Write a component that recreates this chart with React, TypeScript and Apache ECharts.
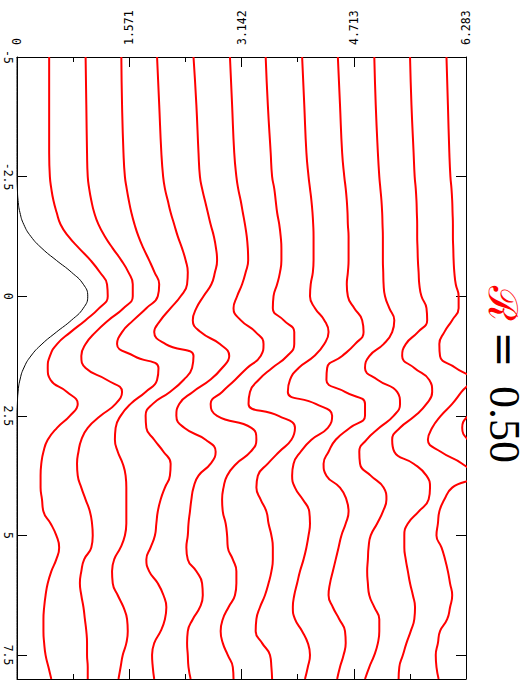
import React, { useEffect, useRef } from 'react';
import * as echarts from 'echarts';

// Position along the line (vertical axis, shared by every profile)
const POS = [-5, -4, -3, -2.5, -2.25, -2, -1.75, -1.5, -1.25, -1, -0.75, -0.5, -0.25, 0, 0.25, 0.5, 0.75, 1, 1.25, 1.5, 1.75, 2, 2.25, 2.5, 2.75, 3, 3.25, 3.5, 3.75, 4, 4.25, 4.5, 4.75, 5, 5.25, 5.5, 5.75, 6, 6.25, 6.5, 6.75, 7, 7.25, 7.5, 7.75, 8];

// Initial pulse (black)
const INITIAL = [0, 0, 0, 0, 0.005, 0.015, 0.041, 0.095, 0.194, 0.349, 0.551, 0.763, 0.928, 0.99, 0.928, 0.763, 0.551, 0.349, 0.194, 0.095, 0.041, 0.015, 0.005, 0, 0, 0, 0, 0, 0, 0, 0, 0, 0, 0, 0, 0, 0, 0, 0, 0, 0, 0, 0, 0, 0, 0];

// Evolved profiles (red), horizontal value incl. offset
const P1 = [0.45, 0.45, 0.45, 0.46, 0.48, 0.51, 0.555, 0.61, 0.72, 0.87, 1.03, 1.16, 1.26, 1.27, 1.15, 0.96, 0.75, 0.56, 0.46, 0.43, 0.47, 0.70, 0.85, 0.74, 0.56, 0.43, 0.37, 0.34, 0.33, 0.33, 0.35, 0.37, 0.47, 0.55, 0.59, 0.55, 0.48, 0.43, 0.40, 0.38, 0.37, 0.37, 0.38, 0.40, 0.44, 0.48];
const P2 = [0.96, 0.97, 0.98, 0.99, 1.01, 1.04, 1.08, 1.14, 1.23, 1.34, 1.46, 1.56, 1.62, 1.62, 1.49, 1.28, 1.10, 0.96, 0.90, 0.96, 1.26, 1.47, 1.38, 1.17, 0.99, 0.90, 0.86, 0.84, 0.85, 0.90, 0.96, 1.02, 1.05, 1.06, 1.04, 0.94, 0.90, 0.88, 0.90, 0.93, 0.95, 0.97, 0.98, 0.98, 0.99, 0.99];
const P3 = [1.46, 1.47, 1.49, 1.51, 1.535, 1.565, 1.60, 1.645, 1.70, 1.77, 1.85, 1.925, 1.99, 1.97, 1.81, 1.63, 1.47, 1.40, 1.64, 1.98, 1.96, 1.80, 1.59, 1.45, 1.38, 1.37, 1.41, 1.48, 1.52, 1.53, 1.53, 1.53, 1.53, 1.51, 1.45, 1.36, 1.33, 1.34, 1.41, 1.49, 1.54, 1.55, 1.53, 1.48, 1.45, 1.42];
const P4 = [1.96, 1.99, 2.02, 2.045, 2.07, 2.11, 2.15, 2.20, 2.25, 2.31, 2.36, 2.39, 2.38, 2.29, 2.15, 2.01, 1.92, 2.08, 2.47, 2.45, 2.33, 2.14, 1.90, 1.80, 1.81, 1.92, 2.05, 2.15, 2.14, 2.07, 2.01, 1.97, 1.95, 1.93, 1.87, 1.81, 1.85, 1.97, 2.05, 2.09, 2.07, 2.01, 1.92, 1.89, 1.90, 1.92];
const P5 = [2.47, 2.51, 2.54, 2.56, 2.59, 2.63, 2.67, 2.71, 2.755, 2.785, 2.80, 2.77, 2.72, 2.61, 2.51, 2.46, 2.57, 2.84, 2.97, 2.87, 2.70, 2.46, 2.27, 2.23, 2.34, 2.64, 2.78, 2.71, 2.54, 2.47, 2.44, 2.42, 2.40, 2.39, 2.37, 2.39, 2.51, 2.59, 2.60, 2.56, 2.46, 2.39, 2.38, 2.39, 2.40, 2.43];
const P6 = [2.98, 3.01, 3.04, 3.07, 3.095, 3.13, 3.16, 3.19, 3.215, 3.23, 3.235, 3.20, 3.15, 3.08, 3.03, 3.13, 3.34, 3.45, 3.41, 3.22, 3.05, 2.87, 2.71, 2.80, 3.28, 3.35, 3.27, 3.07, 2.94, 2.89, 2.87, 2.88, 2.92, 2.94, 2.95, 3.02, 3.07, 3.07, 3.05, 2.96, 2.88, 2.85, 2.88, 2.95, 3.02, 3.03];
const P7 = [3.48, 3.51, 3.55, 3.57, 3.60, 3.62, 3.64, 3.67, 3.69, 3.70, 3.70, 3.68, 3.64, 3.59, 3.58, 3.73, 3.88, 3.88, 3.78, 3.57, 3.38, 3.26, 3.24, 3.66, 3.89, 3.84, 3.67, 3.51, 3.37, 3.35, 3.41, 3.49, 3.52, 3.56, 3.58, 3.58, 3.56, 3.52, 3.47, 3.40, 3.35, 3.34, 3.43, 3.54, 3.56, 3.57];
const P8 = [3.99, 4.02, 4.05, 4.08, 4.10, 4.12, 4.135, 4.145, 4.15, 4.15, 4.15, 4.14, 4.11, 4.10, 4.17, 4.30, 4.36, 4.30, 4.16, 3.94, 3.82, 3.79, 4.18, 4.41, 4.35, 4.12, 3.97, 3.87, 3.85, 3.89, 4.00, 4.09, 4.10, 4.08, 4.05, 4.01, 3.96, 3.92, 3.88, 3.86, 3.89, 3.99, 4.07, 4.10, 4.07, 4.03];
const P9 = [4.49, 4.52, 4.55, 4.58, 4.60, 4.615, 4.625, 4.63, 4.64, 4.64, 4.64, 4.63, 4.615, 4.63, 4.72, 4.83, 4.85, 4.73, 4.55, 4.34, 4.33, 4.59, 4.87, 4.87, 4.66, 4.46, 4.36, 4.29, 4.33, 4.52, 4.61, 4.64, 4.60, 4.54, 4.50, 4.46, 4.42, 4.38, 4.36, 4.42, 4.51, 4.59, 4.60, 4.57, 4.52, 4.48];
const P10 = [5.00, 5.02, 5.05, 5.07, 5.085, 5.10, 5.11, 5.115, 5.12, 5.12, 5.12, 5.125, 5.13, 5.15, 5.21, 5.28, 5.25, 5.13, 4.93, 4.87, 5.05, 5.32, 5.36, 5.27, 5.07, 4.89, 4.79, 4.80, 4.95, 5.13, 5.17, 5.12, 5.04, 4.95, 4.92, 4.91, 4.90, 4.91, 4.93, 5.00, 5.07, 5.07, 5.05, 5.00, 4.93, 4.87];
const P11 = [5.50, 5.52, 5.55, 5.565, 5.58, 5.59, 5.595, 5.60, 5.60, 5.605, 5.61, 5.62, 5.63, 5.66, 5.73, 5.74, 5.61, 5.44, 5.39, 5.56, 5.77, 5.81, 5.73, 5.57, 5.36, 5.25, 5.28, 5.55, 5.73, 5.78, 5.76, 5.62, 5.47, 5.42, 5.42, 5.44, 5.47, 5.50, 5.54, 5.57, 5.56, 5.51, 5.45, 5.40, 5.35, 5.34];
const P12 = [6.01, 6.03, 6.05, 6.065, 6.08, 6.09, 6.095, 6.10, 6.10, 6.105, 6.11, 6.12, 6.14, 6.18, 6.18, 6.09, 5.98, 5.91, 5.92, 6.14, 6.35, 6.22, 6.09, 5.93, 5.81, 5.75, 5.93, 6.23, 6.39, 6.09, 5.98, 5.91, 5.89, 5.87, 5.94, 5.99, 6.03, 6.06, 6.09, 6.06, 6.02, 5.92, 5.89, 5.86, 5.87, 5.90];

// Next profile, only its dip into the window is visible
const EDGE_POS = [2.25, 2.5, 2.75, 3, 3.25];
const EDGE = [6.51, 6.31, 6.23, 6.31, 6.53];

const EVOLVED = [P1, P2, P3, P4, P5, P6, P7, P8, P9, P10, P11, P12];

// Axes
const X_MAX = 2 * Math.PI;
const X_STEP = Math.PI / 2;
const X_TICK_LABELS = ['0', '1.571', '3.142', '4.713', '6.283'];
const Y_MIN = -5;
const Y_MAX = 8;
const Y_STEP = 2.5;

const TITLE_SYMBOL = 'ℛ';
const TITLE_EQ = '=';
const TITLE_VALUE = '0.50';

export default function App() {
  const ref = useRef<HTMLDivElement>(null);

  useEffect(() => {
    const chart = echarts.init(ref.current as HTMLDivElement, null, { renderer: 'svg' });
    const pair = (xs: number[], ys: number[]) => xs.map((x, i) => [x, ys[i]]);

    const labelFont = { fontFamily: 'DejaVu Sans Mono', fontSize: 11.5, color: '#000' };
    const lineStyle = { color: '#000', width: 1 };

    const xBase = {
      type: 'value' as const,
      min: 0,
      max: X_MAX,
      interval: X_STEP,
      axisLine: { show: true, onZero: false, lineStyle },
      axisTick: { show: true, inside: true, length: 10, lineStyle },
      minorTick: { show: true, splitNumber: 2, length: 5, lineStyle },
      splitLine: { show: false },
      minorSplitLine: { show: false },
    };
    const yBase = {
      type: 'value' as const,
      inverse: true,
      min: Y_MIN,
      max: Y_MAX,
      interval: Y_STEP,
      axisLine: { show: true, onZero: false, lineStyle },
      axisTick: { show: true, inside: true, length: 10, lineStyle },
      splitLine: { show: false },
    };

    const lineCommon = {
      type: 'line',
      xAxisIndex: 0,
      yAxisIndex: 0,
      symbol: 'none',
      smooth: 0.5,
    };

    const series: any[] = [
      { ...lineCommon, data: pair(INITIAL, POS), lineStyle: { color: '#000', width: 1 } },
      ...EVOLVED.map((p) => ({
        ...lineCommon,
        data: pair(p, POS),
        lineStyle: { color: '#ff0000', width: 2 },
      })),
      { ...lineCommon, data: pair(EDGE, EDGE_POS), lineStyle: { color: '#ff0000', width: 2 } },
    ];

    chart.setOption({
      animation: false,
      backgroundColor: '#fff',
      grid: { left: 17, top: 57, width: 449, height: 629, containLabel: false },
      xAxis: [
        {
          ...xBase,
          position: 'top',
          axisLabel: {
            ...labelFont,
            rotate: -90,
            margin: 12,
            formatter: (v: number) => X_TICK_LABELS[Math.round(v / X_STEP)] ?? '',
          },
        },
        { ...xBase, position: 'bottom', axisLabel: { show: false } },
      ],
      yAxis: [
        {
          ...yBase,
          position: 'left',
          axisLabel: {
            ...labelFont,
            rotate: -90,
            margin: 3,
            formatter: (v: number) => {
              const k = (v - Y_MIN) / Y_STEP;
              return Math.abs(k - Math.round(k)) < 1e-9 ? String(v) : '';
            },
          },
        },
        { ...yBase, position: 'right', axisLabel: { show: false } },
      ],
      series,
      graphic: [
        {
          type: 'text',
          x: 503,
          y: 286,
          rotation: -Math.PI / 2,
          style: {
            text: TITLE_SYMBOL,
            fill: '#ff0000',
            fontSize: 40,
            fontFamily: 'DejaVu Serif',
            align: 'left',
            verticalAlign: 'middle',
          },
        },
        {
          type: 'text',
          x: 504,
          y: 331,
          rotation: -Math.PI / 2,
          style: {
            text: TITLE_EQ,
            fill: '#000',
            fontSize: 44,
            fontFamily: 'DejaVu Serif',
            align: 'left',
            verticalAlign: 'middle',
          },
        },
        {
          type: 'text',
          x: 504,
          y: 386,
          rotation: -Math.PI / 2,
          style: {
            text: TITLE_VALUE,
            fill: '#000',
            fontSize: 44,
            fontFamily: '"Liberation Serif", "Times New Roman", serif',
            align: 'left',
            verticalAlign: 'middle',
          },
        },
      ],
    });

    return () => chart.dispose();
  }, []);

  return (
    <div
      ref={ref}
      style={{ position: 'fixed', left: 0, top: 0, width: 529, height: 682, background: '#fff' }}
    />
  );
}
